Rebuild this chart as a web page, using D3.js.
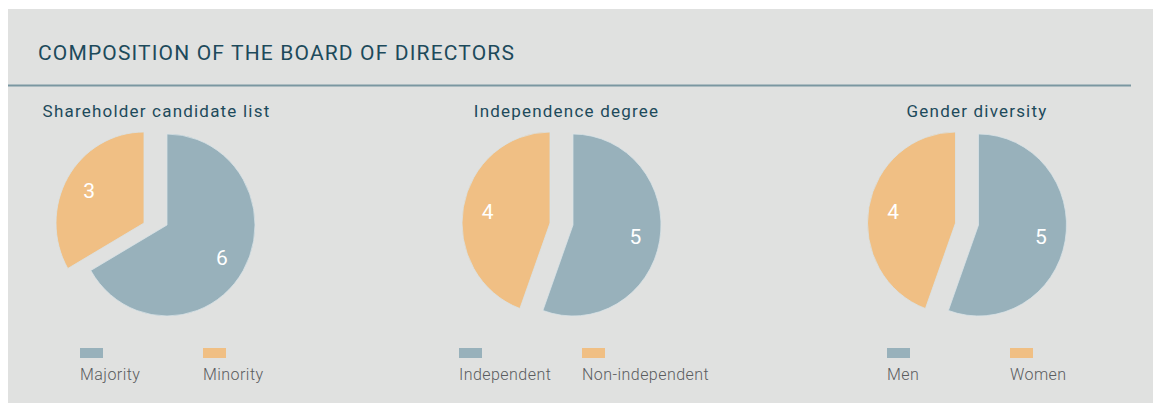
<!DOCTYPE html>
<html>
<head>
<meta charset="utf-8">
<script src="https://cdn.jsdelivr.net/npm/d3@7"></script>
<style>
	body { margin: 0; background: #ffffff; }
	svg { display: block; }
	.main-title { font-family: Roboto, sans-serif; font-size: 21px; fill: #1d4a5b; letter-spacing: 1.15px; }
	.chart-title { font-family: Roboto, sans-serif; font-size: 17px; fill: #1d4a5b; letter-spacing: 1.2px; }
	.slice-label { font-family: Roboto, sans-serif; font-size: 21px; fill: #ffffff; }
	.legend-text { font-family: Roboto, sans-serif; font-size: 16px; fill: #5a5c5e; font-weight: 300; letter-spacing: 0.45px; }
</style>
</head>
<body>
<svg id="chart-svg" width="1153" height="403"></svg>
<script>
// chart data
const MAIN_TITLE = 'COMPOSITION OF THE BOARD OF DIRECTORS';
const CHART_TITLES = ['Shareholder candidate list', 'Independence degree', 'Gender diversity'];
const CATEGORIES = [
	['Majority', 'Minority'],
	['Independent', 'Non-independent'],
	['Men', 'Women']
];
const VALUES = [
	[6, 3],
	[5, 4],
	[5, 4]
];

// layout
const WIDTH = 1153;
const HEIGHT = 403;
const PIE_CX = [155.5, 561.5, 967];
const PIE_CY = 224;
const TITLE_CX = [156.5, 566.5, 977];
const LEGEND_X = [80, 459, 887];
const LEGEND_STEP = 123;
const RADIUS = 91;
const X_SQUASH = 0.967;
const EXPLODE = 11.5;
const COLORS = ['#98b1bb', '#f0bf84'];

const svg = d3.select('#chart-svg');

// background panel and header
svg.append('rect').attr('x', 8).attr('y', 9).attr('width', WIDTH - 8).attr('height', HEIGHT - 9).attr('fill', '#e0e1e0');
svg.append('text').attr('class', 'main-title').attr('x', 38).attr('y', 60).text(MAIN_TITLE);
svg.append('line')
	.attr('x1', 8).attr('x2', 1131)
	.attr('y1', 85.5).attr('y2', 85.5)
	.attr('stroke', '#7a97a1').attr('stroke-width', 2);

const pie = d3.pie().sort(null).value((d) => d);
const arc = d3.arc().innerRadius(0).outerRadius(RADIUS);
const labelArc = d3.arc().innerRadius(RADIUS * 0.72).outerRadius(RADIUS * 0.72);
const color = d3.scaleOrdinal().domain([0, 1]).range(COLORS);

VALUES.forEach((values, i) => {
	const g = svg.append('g').attr('transform', 'translate(' + PIE_CX[i] + ', ' + PIE_CY + ')');

	// chart title
	svg.append('text')
		.attr('class', 'chart-title')
		.attr('x', TITLE_CX[i])
		.attr('y', 117)
		.attr('text-anchor', 'middle')
		.text(CHART_TITLES[i]);

	const arcs = pie(values);
	// slices pulled apart sideways
	const offset = (d) => {
		const mid = (d.startAngle + d.endAngle) / 2;
		return [Math.sin(mid) > 0 ? EXPLODE : -EXPLODE, -Math.cos(mid) > 0 ? 1 : -1];
	};

	g.selectAll('path')
		.data(arcs)
		.enter()
		.append('path')
		.attr('transform', (d) => 'translate(' + offset(d) + ') scale(' + X_SQUASH + ', 1)')
		.attr('d', arc)
		.attr('fill', (d) => color(d.index))
		.attr('stroke', '#d9e3e7')
		.attr('stroke-width', 0.8);

	g.selectAll('text')
		.data(arcs)
		.enter()
		.append('text')
		.attr('class', 'slice-label')
		.attr('x', (d) => labelArc.centroid(d)[0] * X_SQUASH + offset(d)[0])
		.attr('y', (d) => labelArc.centroid(d)[1] + offset(d)[1])
		.attr('text-anchor', 'middle')
		.attr('dy', '0.35em')
		.text((d) => d.data);

	// legend
	const legendG = svg.append('g').attr('transform', 'translate(' + LEGEND_X[i] + ', 0)');
	CATEGORIES[i].forEach((name, j) => {
		legendG.append('rect')
			.attr('x', j * LEGEND_STEP)
			.attr('y', 348)
			.attr('width', 23)
			.attr('height', 10)
			.attr('fill', color(j));
		legendG.append('text')
			.attr('class', 'legend-text')
			.attr('x', j * LEGEND_STEP)
			.attr('y', 380)
			.text(name);
	});
});
</script>
</body>
</html>
